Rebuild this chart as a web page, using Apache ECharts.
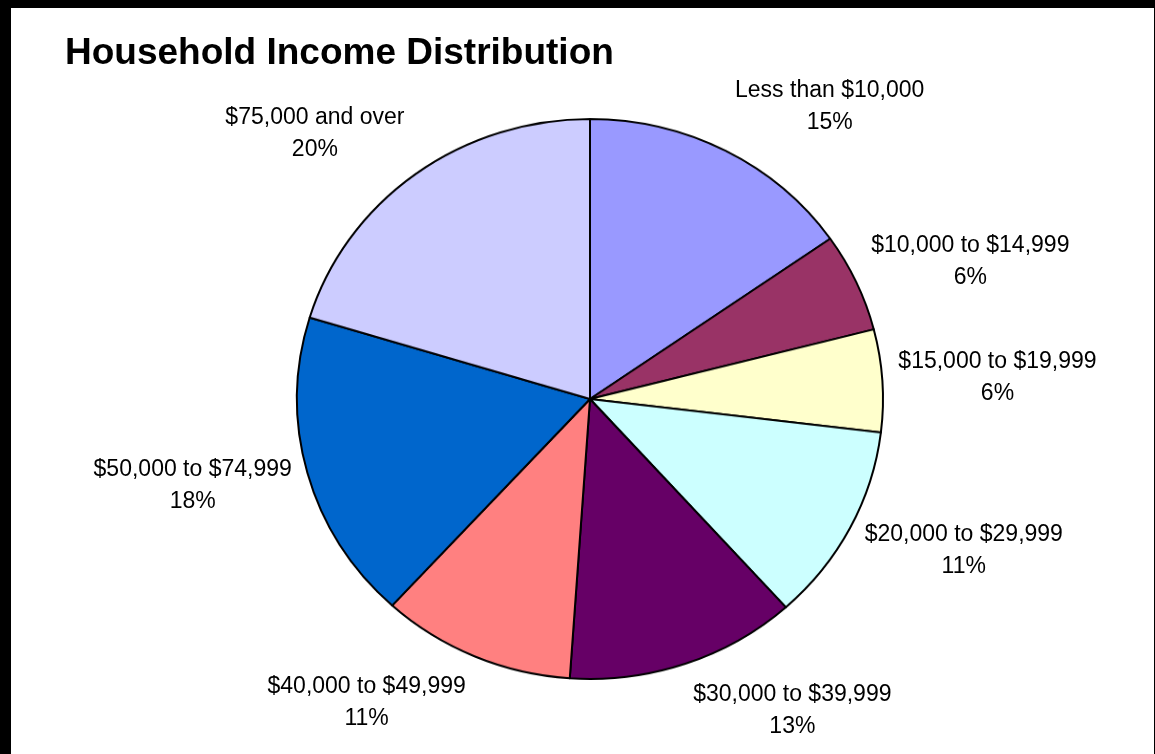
<!DOCTYPE html>
<html>
<head>
<meta charset="utf-8">
<title>Household Income Distribution</title>
<script src="https://cdn.jsdelivr.net/npm/echarts@6/dist/echarts.min.js"></script>
<style>
  html, body { margin: 0; padding: 0; background: #000; }
  body { width: 1155px; height: 754px; position: relative; overflow: hidden; }
  #sheet { position: absolute; left: 11px; top: 8px; width: 1143px; height: 746px; background: #fff; }
  .layer { position: absolute; left: 0; top: 0; width: 1155px; height: 754px; }
  /* the plot area is wider than it is tall, so the pie layer is squeezed vertically */
  #pie { transform-origin: 590px 399px; transform: scaleY(0.9556); }
</style>
</head>
<body>
<div id="sheet"></div>
<div id="pie" class="layer"></div>
<div id="text" class="layer"></div>
<script>
// Household income brackets and their share of households (%)
const categories = [
  'Less than $10,000',
  '$10,000 to $14,999',
  '$15,000 to $19,999',
  '$20,000 to $29,999',
  '$30,000 to $39,999',
  '$40,000 to $49,999',
  '$50,000 to $74,999',
  '$75,000 and over'
];
const shares = [15.3, 5.7, 5.9, 11.45, 12.75, 10.7, 17.9, 20.3];
const sliceColors = ['#9999FF', '#993366', '#FFFFCC', '#CCFFFF', '#660066', '#FF8080', '#0066CC', '#CCCCFF'];

const FONT = '"Liberation Sans", Arial, Helvetica, sans-serif';
const CX = 590, CY = 399;      // pie centre on the page
const RX = 293, RY = 280;      // horizontal / vertical radius of the plotted ellipse

const pieData = categories.map((name, i) => ({ name: name, value: shares[i] }));

// mid angle of every slice (degrees, counter-clockwise from 3 o'clock),
// slices run clockwise from 12 o'clock
const total = shares.reduce((a, b) => a + b, 0);
const midAngles = [];
let acc = 0;
shares.forEach(v => {
  midAngles.push(90 - (acc + v / 2) / total * 360);
  acc += v;
});

// wedges
const pieChart = echarts.init(document.getElementById('pie'), null, { renderer: 'canvas' });
pieChart.setOption({
  animation: false,
  backgroundColor: 'transparent',
  series: [{
    type: 'pie',
    center: [CX, CY],
    radius: RX,
    startAngle: 90,
    clockwise: true,
    silent: true,
    label: { show: false },
    labelLine: { show: false },
    itemStyle: { borderColor: '#000', borderWidth: 2 },
    data: pieData.map((d, i) => ({ name: d.name, value: d.value, itemStyle: { color: sliceColors[i] } }))
  }]
});

// title and data labels
const textChart = echarts.init(document.getElementById('text'), null, { renderer: 'canvas' });
textChart.setOption({
  animation: false,
  backgroundColor: 'transparent',
  title: {
    text: 'Household Income Distribution',
    left: 60,
    top: 30,
    textStyle: { fontFamily: FONT, fontSize: 37, fontWeight: 'bold', color: '#000' }
  },
  series: [{
    type: 'pie',
    center: [CX, CY],
    radius: RX,
    startAngle: 90,
    clockwise: true,
    silent: true,
    avoidLabelOverlap: false,
    itemStyle: { color: 'rgba(0,0,0,0)', borderWidth: 0 },
    labelLine: { show: false },
    label: {
      show: true,
      position: 'outside',
      formatter: p => p.name + '\n' + Math.round(p.percent) + '%',
      fontFamily: FONT,
      fontSize: 23,
      lineHeight: 32,
      color: '#000',
      align: 'center'
    },
    labelLayout: function (p) {
      const a = midAngles[p.dataIndex] * Math.PI / 180;
      const c = Math.cos(a), s = Math.sin(a);
      const ax = CX + RX * c, ay = CY - RY * s;
      const w = p.labelRect.width;
      return {
        x: ax + Math.sign(c) * (w / 2 + 4 + 12 * Math.abs(c)),
        y: ay - 50 * s,
        align: 'center',
        verticalAlign: 'middle'
      };
    },
    data: pieData
  }]
});
</script>
</body>
</html>
